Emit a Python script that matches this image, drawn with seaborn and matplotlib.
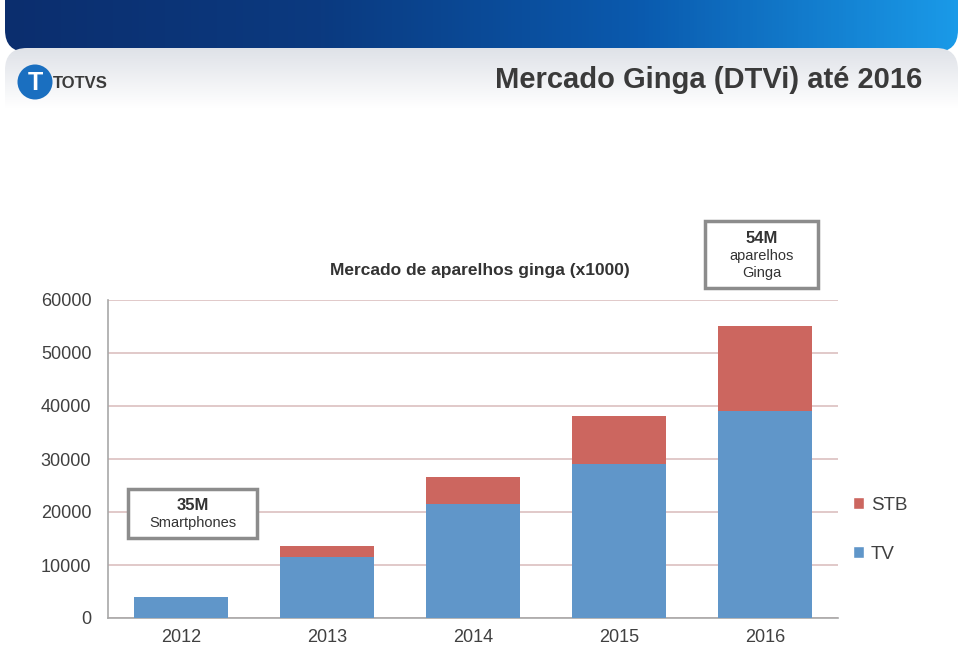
import numpy as np
import pandas as pd
import matplotlib
matplotlib.use('Agg')
import matplotlib.pyplot as plt
from matplotlib.patches import FancyBboxPatch, Circle, Patch
import seaborn as sns

# dados do gráfico (x1000 aparelhos)
anos = ['2012', '2013', '2014', '2015', '2016']
tv = [4000, 11500, 21500, 29000, 39000]
stb = [0, 2000, 5100, 9100, 16100]
yticks = [0, 10000, 20000, 30000, 40000, 50000, 60000]

cor_tv = '#6096c9'
cor_stb = '#cc665f'
cor_texto = '#404040'

sns.set_style('white')
plt.rcParams['font.family'] = ['Liberation Sans', 'DejaVu Sans']

df = pd.DataFrame({'ano': anos, 'TV': tv, 'STB': stb})
df['total'] = df['TV'] + df['STB']

fig = plt.figure(figsize=(9.6, 6.45), dpi=100)

# ---- cabeçalho (faixa azul + faixa cinza) ----
hdr = fig.add_axes([0, 0, 1, 1], zorder=0)
hdr.set_xlim(0, 960)
hdr.set_ylim(645, 0)
hdr.axis('off')
grad = np.linspace(0, 1, 256).reshape(1, -1)
cmap_azul = matplotlib.colors.LinearSegmentedColormap.from_list(
    'azul', ['#0b2e6e', '#0b3a80', '#0a5aae', '#1a9ae8'])
img = hdr.imshow(grad, cmap=cmap_azul, extent=[5, 958, 52, 0], aspect='auto')
clip = FancyBboxPatch((5, -30), 953, 82, boxstyle='round,pad=0,rounding_size=22',
                      transform=hdr.transData, facecolor='none', edgecolor='none')
hdr.add_patch(clip)
img.set_clip_path(clip)
cmap_cinza = matplotlib.colors.LinearSegmentedColormap.from_list(
    'cinza', ['#dfe2e8', '#ffffff'])
img2 = hdr.imshow(np.linspace(0, 1, 128).reshape(-1, 1), cmap=cmap_cinza,
                  extent=[5, 958, 108, 48], aspect='auto')
clip2 = FancyBboxPatch((5, 48), 953, 90, boxstyle='round,pad=0,rounding_size=22',
                       transform=hdr.transData, facecolor='none', edgecolor='none')
hdr.add_patch(clip2)
img2.set_clip_path(clip2)

# logo TOTVS
hdr.add_patch(Circle((35, 82), 17.5, facecolor='#1a6fc0', edgecolor='none'))
hdr.text(35, 83, 'T', color='white', fontsize=18, fontweight='bold',
         ha='center', va='center')
hdr.text(53, 83, 'TOTVS', color='#3a3a3a', fontsize=12, fontweight='bold',
         ha='left', va='center')
hdr.text(922, 80, 'Mercado Ginga (DTVi) até 2016', color='#3a3a3a', fontsize=21,
         fontweight='bold', ha='right', va='center')

# ---- gráfico de barras empilhadas ----
ax = fig.add_axes([108 / 960, 1 - 618 / 645, 730 / 960, 318 / 645], zorder=2)
ax.patch.set_alpha(0)
sns.barplot(data=df, x='ano', y='total', color=cor_stb, width=0.65,
            saturation=1, linewidth=0, ax=ax, zorder=3)
sns.barplot(data=df, x='ano', y='TV', color=cor_tv, width=0.65,
            saturation=1, linewidth=0, ax=ax, zorder=4)

ax.set_ylim(0, 60000)
ax.set_yticks(yticks)
ax.set_yticklabels([str(v) for v in yticks])
ax.set_xlim(-0.5, 4.5)
ax.set_xlabel('')
ax.set_ylabel('')
ax.yaxis.grid(True, color='#dcc0c0', linewidth=1.2, zorder=0)
ax.set_axisbelow(True)
for s in ['top', 'right']:
    ax.spines[s].set_visible(False)
for s in ['left', 'bottom']:
    ax.spines[s].set_color('#a8a8a8')
    ax.spines[s].set_linewidth(1.2)
ax.tick_params(axis='both', length=0, labelsize=13, labelcolor=cor_texto)
ax.tick_params(axis='y', pad=12)
ax.tick_params(axis='x', pad=8)

fig.text(480 / 960, 1 - 270 / 645, 'Mercado de aparelhos ginga (x1000)',
         ha='center', va='center', fontsize=12.5, fontweight='bold', color='#333333')

# legenda
handles = [Patch(facecolor=cor_stb, label='STB'), Patch(facecolor=cor_tv, label='TV')]
fig.legend(handles=handles, loc='upper left', bbox_to_anchor=(836 / 960, 1 - 480 / 645),
           frameon=False, fontsize=13.5, handlelength=0.6, handleheight=0.6,
           handletextpad=0.35, labelspacing=1.7, labelcolor=cor_texto)

# caixas de destaque
def caixa(x, y, w, h, linhas):
    fig.patches.append(plt.Rectangle((x / 960, 1 - (y + h) / 645), w / 960, h / 645,
                                     transform=fig.transFigure, facecolor='white',
                                     edgecolor='#8c8c8c', linewidth=2.5, zorder=5))
    cx = (x + w / 2) / 960
    for txt, peso, yy in linhas:
        fig.text(cx, 1 - yy / 645, txt, ha='center', va='center',
                 fontsize=10.5 if peso == 'normal' else 12,
                 fontweight=peso, color='#333333', zorder=6)

caixa(128, 489, 129, 49, [('35M', 'bold', 506), ('Smartphones', 'normal', 523)])
caixa(705, 221, 113, 67, [('54M', 'bold', 238), ('aparelhos', 'normal', 256), ('Ginga', 'normal', 273)])

fig.savefig('out.png', dpi=100)
